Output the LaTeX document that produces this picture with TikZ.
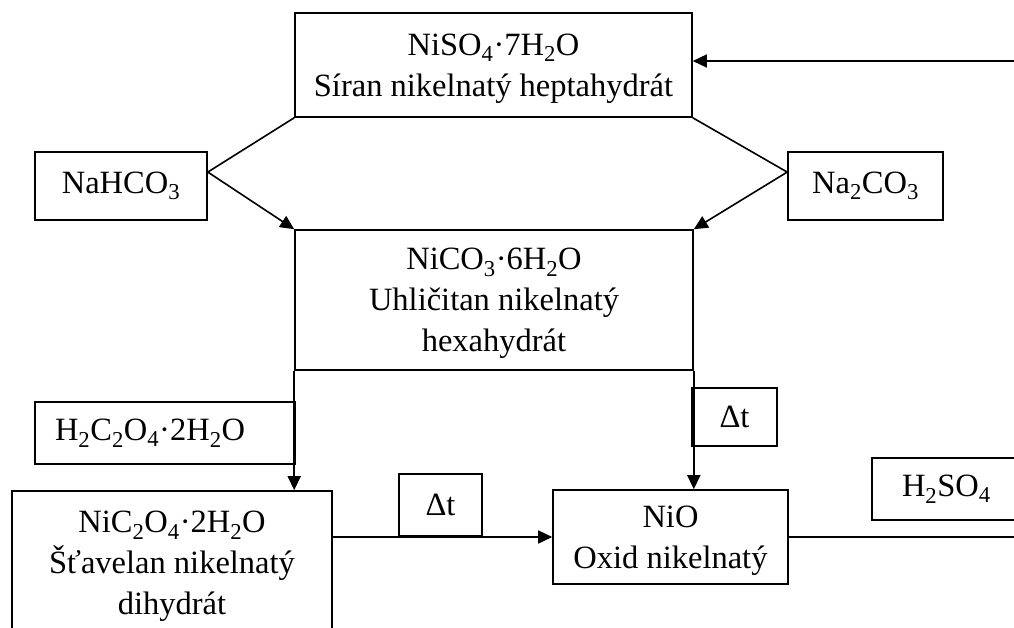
\documentclass[tikz,border=0pt]{standalone}
\usepackage{fontspec}
\setmainfont{Liberation Serif}
\usetikzlibrary{arrows.meta,calc}
\newcommand{\sbs}[1]{\textsubscript{#1}}
\begin{document}
\begin{tikzpicture}[x=1pt,y=-1pt,
  box/.style={draw,line width=1.6pt,inner sep=0pt,align=center,
    font=\fontsize{32.5}{41}\selectfont},
  conn/.style={line width=1.6pt},
  arr/.style={line width=1.6pt,-{Triangle[length=14pt,width=13pt]}}]
\useasboundingbox (0,0) rectangle (1014,627);
\clip (0,0) rectangle (1014,627);
\fill[white] (0,0) rectangle (1014,627);
\node[box,minimum width=397pt,minimum height=104pt] (top) at (493.5,65)
  {\strut NiSO\sbs{4}·7H\sbs{2}O\\Síran nikelnatý heptahydrát};
\node[box,minimum width=172pt,minimum height=68pt] (nahco) at (121,186) {NaHCO\sbs{3}};
\node[box,minimum width=155pt,minimum height=68pt] (naco) at (865.5,186) {Na\sbs{2}CO\sbs{3}};
\node[box,minimum width=398pt,minimum height=140pt] (mid) at (494,300)
  {\strut NiCO\sbs{3}·6H\sbs{2}O\\Uhličitan nikelnatý\\hexahydrát};
\node[box,text width=220pt,inner xsep=20pt,align=left,minimum height=62pt] (oxal) at (165,433)
  {H\sbs{2}C\sbs{2}O\sbs{4}·2H\sbs{2}O};
\node[box,minimum width=320pt,minimum height=144pt] (nic) at (172,563)
  {\strut NiC\sbs{2}O\sbs{4}·2H\sbs{2}O\\Šťavelan nikelnatý\\dihydrát};
\node[box,minimum width=83pt,minimum height=62pt] (dt1) at (440.5,505) {Δt};
\node[box,minimum width=85pt,minimum height=58pt] (dt2) at (734.5,417) {Δt};
\node[box,minimum width=235pt,minimum height=94pt] (nio) at (670.5,537)
  {\strut NiO\\Oxid nikelnatý};
\node[box,text width=110pt,inner xsep=30pt,align=left,minimum height=62pt] (hso) at (957,489)
  {H\sbs{2}SO\sbs{4}};
\coordinate (nahcoJ) at ($(nahco.north east)!0.3!(nahco.south east)$);
\coordinate (nacoJ) at ($(naco.north west)!0.3!(naco.south west)$);
\coordinate (retin) at (1040,61);
\coordinate (retout) at (1040,537);
\draw[conn] (top.south west) -- (nahcoJ);
\draw[arr] (nahcoJ) -- (mid.north west);
\draw[conn] (top.south east) -- (nacoJ);
\draw[arr] (nacoJ) -- (mid.north east);
\draw[arr] (retin) -- (retin -| top.east);
\draw[arr] (mid.south west) -- (mid.south west |- nic.north);
\draw[arr] (mid.south east) -- (mid.south east |- nio.north);
\draw[arr] (nio.west -| nic.east) -- (nio.west);
\draw[conn] (nio.east) -- (retout);
\end{tikzpicture}
\end{document}
